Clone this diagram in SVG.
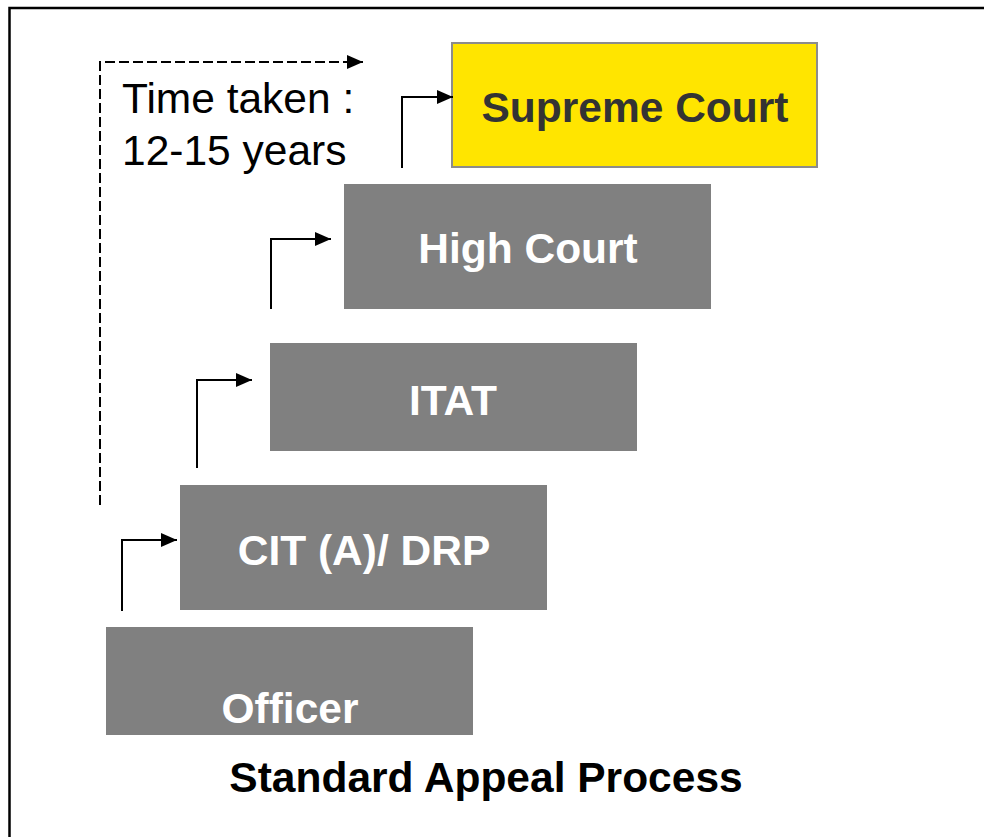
<svg xmlns="http://www.w3.org/2000/svg" width="984" height="837" viewBox="0 0 984 837">
<defs>
<marker id="ah" markerWidth="16" markerHeight="14" refX="16" refY="7" orient="auto" markerUnits="userSpaceOnUse"><path d="M0,0 L16,7 L0,14 Z" fill="#000"/></marker>
<style>
.box{fill:#808080}
.lbl{font-family:"Liberation Sans",Arial,sans-serif;font-weight:bold;font-size:42.5px;fill:#fff;text-anchor:middle}
.con{fill:none;stroke:#000;stroke-width:2;marker-end:url(#ah)}
</style>
</defs>
<rect x="0" y="0" width="984" height="837" fill="#fff"/>
<path d="M9.5,850 V8 H1000" fill="none" stroke="#000" stroke-width="2.5"/>
<g id="officer"><rect class="box" x="106" y="627" width="367" height="108"/><text class="lbl" x="290" y="723">Officer</text></g>
<g id="cit"><rect class="box" x="180" y="485" width="367" height="125"/><text class="lbl" x="364" y="565">CIT (A)/ DRP</text></g>
<g id="itat"><rect class="box" x="270" y="343" width="367" height="108"/><text class="lbl" x="453" y="415">ITAT</text></g>
<g id="high"><rect class="box" x="344" y="184" width="367" height="125"/><text class="lbl" x="528" y="263">High Court</text></g>
<g id="supreme"><rect x="452" y="43" width="365" height="124" fill="#FFE500" stroke="#8c8c8c" stroke-width="2"/><text class="lbl" x="635" y="122" style="fill:#333">Supreme Court</text></g>
<g id="connectors">
<path class="con" d="M122,611 V540 H177"/>
<path class="con" d="M197,468 V380 H252"/>
<path class="con" d="M271,309 V239 H331"/>
<path class="con" d="M402,168 V97 H453"/>
<path class="con" d="M100,505 V62 H363" stroke-dasharray="10,4"/>
</g>
<g id="note" font-family="'Liberation Sans',Arial,sans-serif" font-size="42.5" fill="#000">
<text x="122" y="113">Time taken :</text>
<text x="122" y="165">12-15 years</text>
</g>
<text x="486" y="792" font-family="'Liberation Sans',Arial,sans-serif" font-weight="bold" font-size="42.5" text-anchor="middle" fill="#000">Standard Appeal Process</text>
</svg>
